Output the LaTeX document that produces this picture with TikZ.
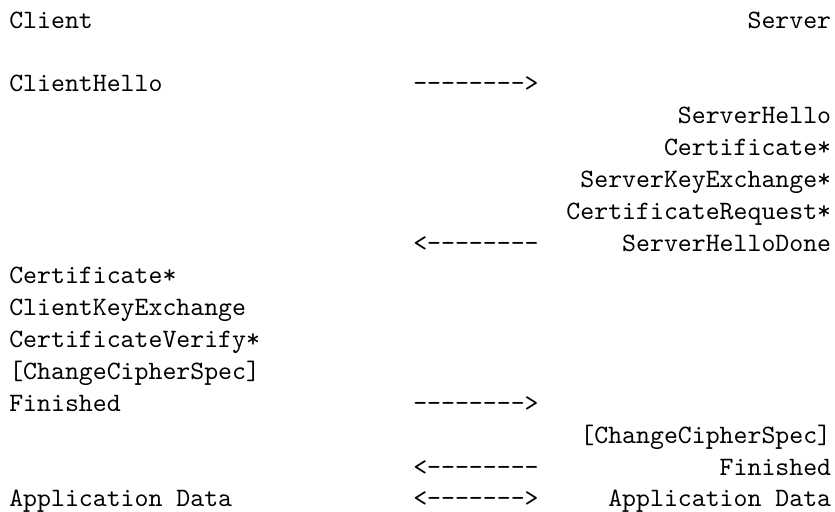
\documentclass[tikz,border=0pt]{standalone}
\newcommand\hy{-\kern0pt}
\newcommand\rarr{\hy\hy\hy\hy\hy\hy\hy\hy>}
\newcommand\larr{<\hy\hy\hy\hy\hy\hy\hy\hy}
\newcommand\barr{<\hy\hy\hy\hy\hy\hy\hy>}
\begin{document}
\begin{tikzpicture}[x=1pt,y=1pt,
  every node/.style={inner sep=0pt,outer sep=0pt,font=\ttfamily},
  cl/.style={anchor=base west},
  sv/.style={anchor=base east},
  ar/.style={anchor=base west}]
\useasboundingbox (0,0) rectangle (314.7,-192.59);
\def\lx{3.5}
\def\ax{155.75}
\def\rx{313.25}
\def\ly#1{-10.6-#1*12.03}
\node[cl] (client) at (\lx,{\ly{0}}) {Client};
\node[sv] (server) at (\rx,{\ly{0}}) {Server};
\node[cl] (chello) at (\lx,{\ly{2}}) {ClientHello};
\node[ar] (a1) at (\ax,{\ly{2}}) {\rarr};
\node[sv] (shello) at (\rx,{\ly{3}}) {ServerHello};
\node[sv] (scert) at (\rx,{\ly{4}}) {Certificate*};
\node[sv] (ske) at (\rx,{\ly{5}}) {ServerKeyExchange*};
\node[sv] (creq) at (\rx,{\ly{6}}) {CertificateRequest*};
\node[ar] (a2) at (\ax,{\ly{7}}) {\larr};
\node[sv] (shd) at (\rx,{\ly{7}}) {ServerHelloDone};
\node[cl] (ccert) at (\lx,{\ly{8}}) {Certificate*};
\node[cl] (cke) at (\lx,{\ly{9}}) {ClientKeyExchange};
\node[cl] (cv) at (\lx,{\ly{10}}) {CertificateVerify*};
\node[cl] (cccs) at (\lx,{\ly{11}}) {[ChangeCipherSpec]};
\node[cl] (cfin) at (\lx,{\ly{12}}) {Finished};
\node[ar] (a3) at (\ax,{\ly{12}}) {\rarr};
\node[sv] (sccs) at (\rx,{\ly{13}}) {[ChangeCipherSpec]};
\node[ar] (a4) at (\ax,{\ly{14}}) {\larr};
\node[sv] (sfin) at (\rx,{\ly{14}}) {Finished};
\node[cl] (cad) at (\lx,{\ly{15}}) {Application Data};
\node[ar] (a5) at (\ax,{\ly{15}}) {\barr};
\node[sv] (sad) at (\rx,{\ly{15}}) {Application Data};
\end{tikzpicture}
\end{document}
